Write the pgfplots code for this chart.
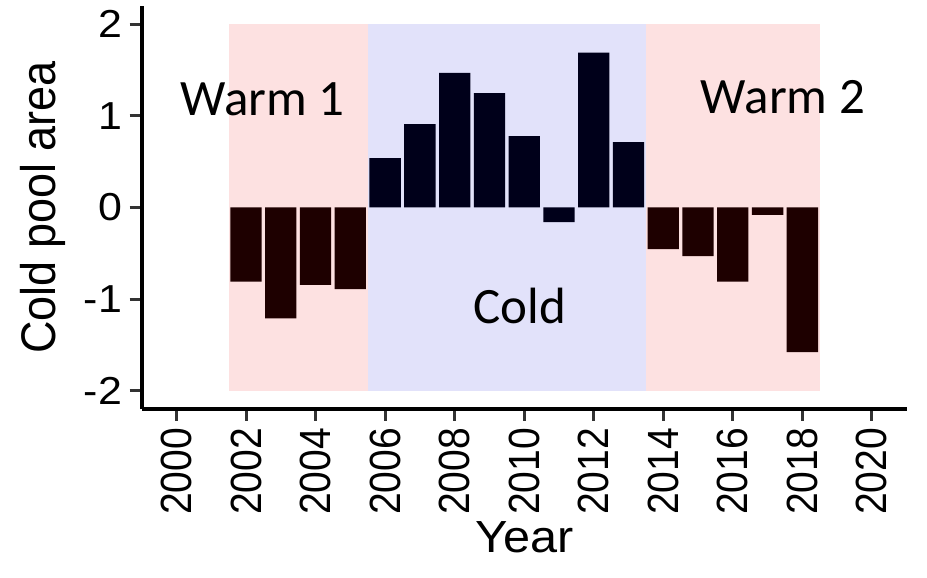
\documentclass[border=0pt]{standalone}
\usepackage{fontspec}
\setmainfont{Liberation Sans}
\newfontfamily\calibri{Carlito}
\usepackage{pgfplots}
\pgfplotsset{compat=1.18}

\definecolor{warmbg}{RGB}{253,225,225}
\definecolor{coldbg}{RGB}{226,226,250}
\definecolor{warmbar}{RGB}{30,0,0}
\definecolor{coldbar}{RGB}{0,0,26}

\begin{document}
\begin{tikzpicture}
\useasboundingbox (0,0) rectangle (463.5bp,289bp);
\begin{axis}[
  at={(70.85bp,84.5bp)}, anchor=south west,
  scale only axis, width=382.5bp, height=201.5bp,
  xmin=1999, xmax=2021, ymin=-2.2, ymax=2.2,
  axis lines=left,
  axis line style={-, line width=2bp},
  tick align=outside,
  major tick length=6bp,
  tick style={color=black!80, line width=1.5bp},
  xtick={2000,2002,...,2020},
  ytick={-2,-1,0,1,2},
  /pgf/number format/1000 sep={},
  /pgf/number format/assume math mode=true,
  tick label style={font=\fontsize{19.5bp}{22bp}\selectfont},
  xticklabel style={rotate=90, anchor=east, yscale=1.12},
  yticklabel style={anchor=east, xscale=1.1},
  xlabel={Year},
  ylabel={Cold pool area},
  label style={font=\fontsize{22.5bp}{26bp}\selectfont},
  xlabel style={at={(axis description cs:0.5,-0.318)}, anchor=center, xscale=1.08},
  ylabel style={at={(axis description cs:-0.129,0.5)}, anchor=center, yscale=1.08},
  clip=false,
]
% period shading
\addplot[fill=warmbg, draw=none] coordinates {(2001.5,-2) (2001.5,2) (2005.5,2) (2005.5,-2)} -- cycle;
\addplot[fill=coldbg, draw=none] coordinates {(2005.5,-2) (2005.5,2) (2013.5,2) (2013.5,-2)} -- cycle;
\addplot[fill=warmbg, draw=none] coordinates {(2013.5,-2) (2013.5,2) (2018.5,2) (2018.5,-2)} -- cycle;

% Warm 1
\addplot[ybar, bar width=0.9, bar shift=0pt, fill=warmbar, draw=none] coordinates {
  (2002,-0.81) (2003,-1.21) (2004,-0.845) (2005,-0.89)
};
% Cold
\addplot[ybar, bar width=0.9, bar shift=0pt, fill=coldbar, draw=none] coordinates {
  (2006,0.54) (2007,0.91) (2008,1.47) (2009,1.25) (2010,0.78)
  (2011,-0.16) (2012,1.69) (2013,0.715)
};
% Warm 2
\addplot[ybar, bar width=0.9, bar shift=0pt, fill=warmbar, draw=none] coordinates {
  (2014,-0.455) (2015,-0.53) (2016,-0.81) (2017,-0.08) (2018,-1.58)
};

\node[font=\calibri\fontsize{25.5bp}{30bp}\selectfont] at (axis cs:2002.47,1.18) {Warm 1};
\node[font=\calibri\fontsize{25.5bp}{30bp}\selectfont] at (axis cs:2017.44,1.20) {Warm 2};
\node[font=\calibri\fontsize{25.5bp}{30bp}\selectfont] at (axis cs:2009.87,-1.08) {Cold};
\end{axis}
\end{tikzpicture}
\end{document}
